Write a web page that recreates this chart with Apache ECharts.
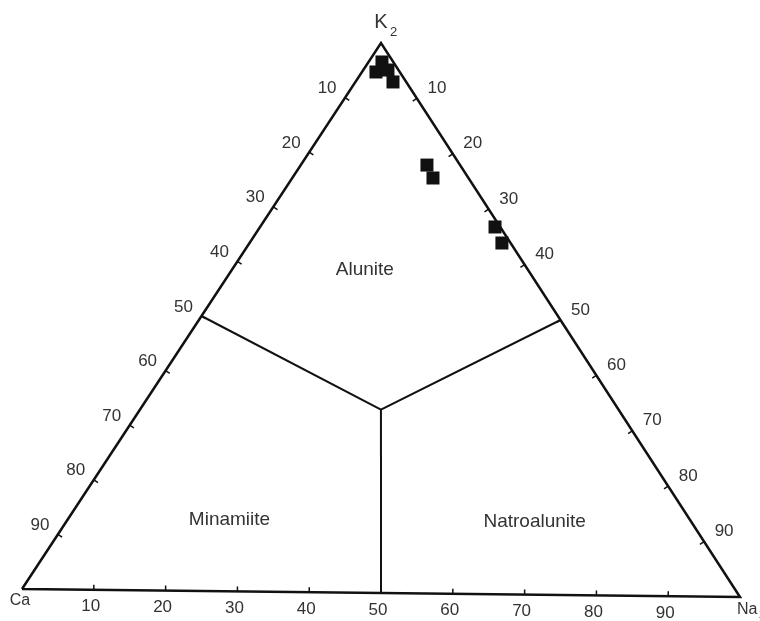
<!DOCTYPE html>
<html><head><meta charset="utf-8">
<script src="https://cdn.jsdelivr.net/npm/echarts@6/dist/echarts.min.js"></script>
<style>html,body{margin:0;padding:0;background:#fff}#c{width:760px;height:621px}</style>
</head><body><div id="c"></div>
<script>
// ---- data ----
const tickValues = [10, 20, 30, 40, 50, 60, 70, 80, 90];
const tickLabels = ['10', '20', '30', '40', '50', '60', '70', '80', '90'];
const sampleK  = [96.55, 94.72, 95.10, 92.94, 77.90, 75.56, 66.78, 63.88];
const sampleNa = [1.86, 1.94, 3.42, 5.20, 17.45, 19.46, 32.49, 34.90];
const sampleCa = [1.59, 3.34, 1.48, 1.86, 4.65, 4.98, 0.73, 1.22];
const regionNames = ['Alunite', 'Minamiite', 'Natroalunite'];
const regionK  = [58.7, 13.0, 13.2];
const regionNa = [18.4, 22.4, 64.8];
const regionCa = [22.9, 64.6, 22.0];
// field boundaries: centre joined to edge midpoints [K, Na, Ca]
const fieldCentre = [33.33, 33.33, 33.34];
const boundaryEnds = [[50, 0, 50], [50, 50, 0], [0, 50, 50]];

// ---- ternary -> cartesian (library scales do the pixel mapping) ----
const SHEAR = -0.014652;
function toXY(k, na, ca) {
  const s = k + na + ca; k = k / s * 100; na = na / s * 100;
  return [na + k / 2, k + SHEAR * na];
}
const V_K = toXY(100, 0, 0), V_Na = toXY(0, 100, 0), V_Ca = toXY(0, 0, 100);

// tick points: edge 0 = K-Ca (Ca %), edge 1 = K-Na (Na %), edge 2 = Ca-Na (Na %)
const tickData = [];
tickValues.forEach((v, i) => {
  tickData.push(toXY(100 - v, 0, v).concat([0, i]));
  tickData.push(toXY(100 - v, v, 0).concat([1, i]));
  tickData.push(toXY(0, v, 100 - v).concat([2, i]));
});

const FONT = '"Liberation Sans", Arial, sans-serif';
const TXT = '#333';
const labelOffsets = [[-18, -9], [20, -10], [-3, 17]];

const chart = echarts.init(document.getElementById('c'));
const series = [];
series.push({
  type: 'line', clip: false, symbol: 'none', silent: true,
  data: [V_Ca, V_K, V_Na, V_Ca],
  lineStyle: { color: '#111', width: 2.5, join: 'miter' }
});
boundaryEnds.forEach(e => {
  series.push({
    type: 'line', clip: false, symbol: 'none', silent: true,
    data: [toXY(...fieldCentre), toXY(...e)],
    lineStyle: { color: '#111', width: 2 }
  });
});
series.push({
  type: 'custom', clip: false, silent: true,
  data: tickData,
  renderItem: function (params, api) {
    const p = api.coord([api.value(0), api.value(1)]);
    const edge = api.value(2), li = api.value(3);
    const a = api.coord(V_K), b = api.coord(V_Na), c = api.coord(V_Ca);
    const cen = [(a[0] + b[0] + c[0]) / 3, (a[1] + b[1] + c[1]) / 3];
    const ends = edge === 0 ? [a, c] : edge === 1 ? [a, b] : [c, b];
    let dx = ends[1][0] - ends[0][0], dy = ends[1][1] - ends[0][1];
    const L = Math.hypot(dx, dy); dx /= L; dy /= L;
    let nx = -dy, ny = dx;
    if ((cen[0] - p[0]) * nx + (cen[1] - p[1]) * ny < 0) { nx = -nx; ny = -ny; }
    const off = labelOffsets[edge];
    return {
      type: 'group',
      children: [
        { type: 'line', shape: { x1: p[0], y1: p[1], x2: p[0] + nx * 5, y2: p[1] + ny * 5 },
          style: { stroke: '#111', lineWidth: 1.5 } },
        { type: 'text', x: p[0] + off[0], y: p[1] + off[1],
          style: { text: tickLabels[li], fill: TXT, font: '17px ' + FONT, align: 'center', verticalAlign: 'middle' } }
      ]
    };
  }
});
series.push({
  type: 'custom', clip: false, silent: true,
  data: regionNames.map((n, i) => toXY(regionK[i], regionNa[i], regionCa[i])),
  renderItem: function (params, api) {
    const p = api.coord([api.value(0), api.value(1)]);
    return { type: 'text', x: p[0], y: p[1],
      style: { text: regionNames[params.dataIndex], fill: TXT, font: '19px ' + FONT, align: 'center', verticalAlign: 'middle' } };
  }
});
series.push({
  type: 'custom', clip: false, silent: true,
  data: [V_K, V_Ca, V_Na].map((v, i) => v.concat([i])),
  renderItem: function (params, api) {
    const p = api.coord([api.value(0), api.value(1)]);
    const i = api.value(2);
    const st = (t, size, al) => ({ text: t, fill: TXT, font: size + 'px ' + FONT, align: al, verticalAlign: 'middle' });
    if (i === 0) return { type: 'group', children: [
      { type: 'text', x: p[0], y: p[1] - 21, style: st('K', 20, 'center') },
      { type: 'text', x: p[0] + 9, y: p[1] - 11, style: st('2', 13, 'left') }] };
    if (i === 1) return { type: 'text', x: p[0] - 2, y: p[1] + 12, style: st('Ca', 16, 'center') };
    return { type: 'group', children: [
      { type: 'text', x: p[0] - 3, y: p[1] + 13, style: st('Na', 16, 'left') },
      { type: 'text', x: p[0] + 19, y: p[1] + 18, style: st('2', 11, 'left') }] };
  }
});
series.push({
  type: 'scatter', clip: false, silent: true,
  symbol: 'rect', symbolSize: 13,
  itemStyle: { color: '#111', opacity: 1 },
  data: sampleK.map((k, i) => toXY(k, sampleNa[i], sampleCa[i])),
  z: 5
});

chart.setOption({
  animation: false,
  backgroundColor: '#fff',
  grid: { left: 22, top: 43, width: 718, height: 554, containLabel: false },
  xAxis: { type: 'value', min: 0, max: 100, show: false },
  yAxis: { type: 'value', min: -1.4652, max: 100, show: false },
  series: series
});
</script></body></html>
